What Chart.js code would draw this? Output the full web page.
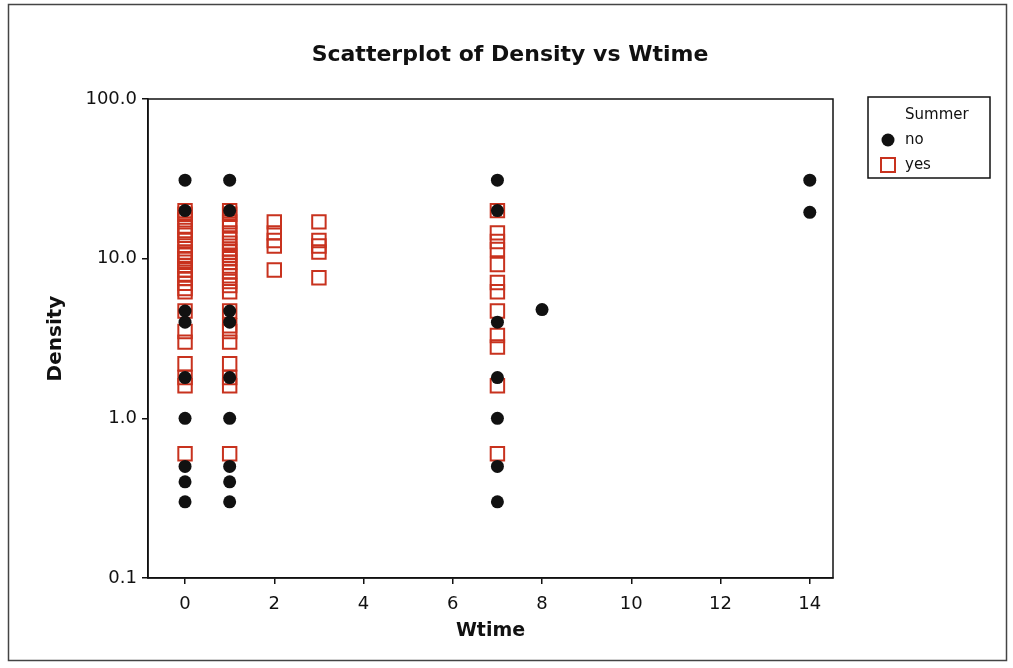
<!DOCTYPE html>
<html>
<head>
<meta charset="utf-8">
<script src="https://cdn.jsdelivr.net/npm/chart.js@4.4.1/dist/chart.umd.min.js"></script>
<style>
  html, body { margin: 0; padding: 0; background: #fff; }
  #wrap { width: 1013px; height: 668px; }
</style>
</head>
<body>
<div id="wrap"><canvas id="chart" width="1013" height="668"></canvas></div>
<script>
// Data
const noWtime    = [0, 0, 0, 0, 0, 0, 0, 0, 0,
                    1, 1, 1, 1, 1, 1, 1, 1, 1,
                    7, 7, 7, 7, 7, 7, 7,
                    8,
                    14, 14];
const noDensity  = [31, 20, 4.7, 4.0, 1.8, 1.0, 0.5, 0.4, 0.3,
                    31, 20, 4.7, 4.0, 1.8, 1.0, 0.5, 0.4, 0.3,
                    31, 20, 4.0, 1.8, 1.0, 0.5, 0.3,
                    4.8,
                    31, 19.5];

const yesWtime   = [0, 0, 0, 0, 0, 0, 0, 0, 0, 0, 0, 0, 0, 0, 0, 0, 0, 0, 0, 0, 0, 0, 0, 0, 0, 0,
                    1, 1, 1, 1, 1, 1, 1, 1, 1, 1, 1, 1, 1, 1, 1, 1, 1, 1, 1, 1, 1, 1, 1, 1, 1, 1,
                    2, 2, 2, 2, 2,
                    3, 3, 3, 3, 3,
                    7, 7, 7, 7, 7, 7, 7, 7, 7, 7, 7, 7];
const yesDensity = [20, 19, 17.5, 16, 15, 14, 13, 12, 11, 10.5, 10, 9.5, 9, 8.5, 8, 7.5, 7, 6.5, 6.2, 4.7, 3.5, 3.0, 2.2, 1.8, 1.6, 0.6,
                    20, 19, 17, 16, 14.5, 13.5, 12.5, 11.5, 11, 10.5, 10, 9.5, 9, 8.3, 7.8, 7.2, 6.8, 6.2, 4.7, 3.8, 3.5, 3.0, 2.2, 1.8, 1.6, 0.6,
                    17, 14.5, 13, 12, 8.5,
                    17, 13, 12, 11, 7.6,
                    20, 14.5, 12.8, 11.4, 9.2, 7.1, 6.2, 4.7, 3.3, 2.8, 1.6, 0.6];

const xTicks = [0, 2, 4, 6, 8, 10, 12, 14];
const yTicks = [0.1, 1, 10, 100];

const seriesNames = ['no', 'yes'];
const legendTitle = 'Summer';
const chartTitle = 'Scatterplot of Density vs Wtime';

const zip = (xs, ys) => xs.map((x, i) => ({ x: x, y: ys[i] }));

const RED = '#c8321e';
const FONT = "'DejaVu Sans', Verdana, sans-serif";

// Title, frame around the plot area, outer frame and legend box
const framePlugin = {
    id: 'frames',
    afterDraw(chart) {
        const ctx = chart.ctx;
        const a = chart.chartArea;
        ctx.save();
        // outer frame
        ctx.strokeStyle = '#444';
        ctx.lineWidth = 1.5;
        ctx.strokeRect(8.5, 4.5, 998, 656);
        // plot frame
        ctx.strokeStyle = '#111';
        ctx.lineWidth = 1.5;
        ctx.strokeRect(a.left, a.top, a.right - a.left, a.bottom - a.top);

        // title (centred on the page, not on the plot)
        ctx.fillStyle = '#111';
        ctx.font = 'bold 22px ' + FONT;
        ctx.textAlign = 'center';
        ctx.textBaseline = 'middle';
        ctx.fillText(chartTitle, 510, 55);

        // legend
        const lx = 868, ly = 97, lw = 122, lh = 81;
        ctx.lineWidth = 1.5;
        ctx.strokeStyle = '#111';
        ctx.strokeRect(lx, ly, lw, lh);
        ctx.fillStyle = '#111';
        ctx.font = '15px ' + FONT;
        ctx.textBaseline = 'middle';
        ctx.textAlign = 'left';
        ctx.fillText(legendTitle, 905, 115);
        chart.data.datasets.forEach((ds, i) => {
            const cy = 140 + i * 25;
            ctx.fillStyle = '#111';
            ctx.fillText(ds.label, 905, cy);
            if (ds.pointStyle === 'rect') {
                ctx.strokeStyle = ds.borderColor;
                ctx.lineWidth = 2;
                ctx.strokeRect(881, cy - 7, 14, 14);
            } else {
                ctx.beginPath();
                ctx.arc(888, cy, 6.5, 0, Math.PI * 2);
                ctx.fillStyle = ds.backgroundColor;
                ctx.fill();
            }
        });
        ctx.restore();
    }
};

new Chart(document.getElementById('chart'), {
    type: 'scatter',
    data: {
        datasets: [{
            label: seriesNames[0],
            data: zip(noWtime, noDensity),
            pointStyle: 'circle',
            pointRadius: 6.5,
            backgroundColor: '#111',
            borderColor: '#111',
            borderWidth: 0
        }, {
            label: seriesNames[1],
            data: zip(yesWtime, yesDensity),
            pointStyle: 'rect',
            pointRadius: 9.5,
            backgroundColor: 'rgba(0,0,0,0)',
            borderColor: RED,
            borderWidth: 2
        }]
    },
    options: {
        responsive: false,
        animation: false,
        layout: { padding: { left: 10, right: 180, top: 99, bottom: 15 } },
        plugins: {
            legend: { display: false },
            tooltip: { enabled: false },
            title: { display: false }
        },
        scales: {
            x: {
                type: 'linear',
                min: -0.83,
                max: 14.52,
                afterBuildTicks: s => { s.ticks = xTicks.map(v => ({ value: v })); },
                afterFit: s => { s.height = 75; },
                grid: { drawOnChartArea: false, drawTicks: true, tickLength: 6, color: '#111', lineWidth: 1.5 },
                border: { display: true, color: '#111', width: 1.5 },
                ticks: { color: '#111', padding: 10, font: { family: FONT, size: 18 } },
                title: {
                    display: true, text: 'Wtime', color: '#111',
                    font: { family: FONT, size: 19, weight: 'bold' },
                    padding: { top: 0, bottom: 11 }
                }
            },
            y: {
                type: 'logarithmic',
                min: 0.1,
                max: 100,
                afterBuildTicks: s => { s.ticks = yTicks.map(v => ({ value: v })); },
                afterFit: s => { s.width = 138; },
                grid: { drawOnChartArea: false, drawTicks: true, tickLength: 6, color: '#111', lineWidth: 1.5 },
                border: { display: true, color: '#111', width: 1.5 },
                ticks: {
                    color: '#111', padding: 5,
                    font: { family: FONT, size: 18 },
                    callback: v => Number(v).toFixed(1)
                },
                title: {
                    display: true, text: 'Density', color: '#111',
                    font: { family: FONT, size: 20, weight: 'bold' },
                    padding: { top: 34, bottom: 0 }
                }
            }
        }
    },
    plugins: [framePlugin]
});
</script>
</body>
</html>
